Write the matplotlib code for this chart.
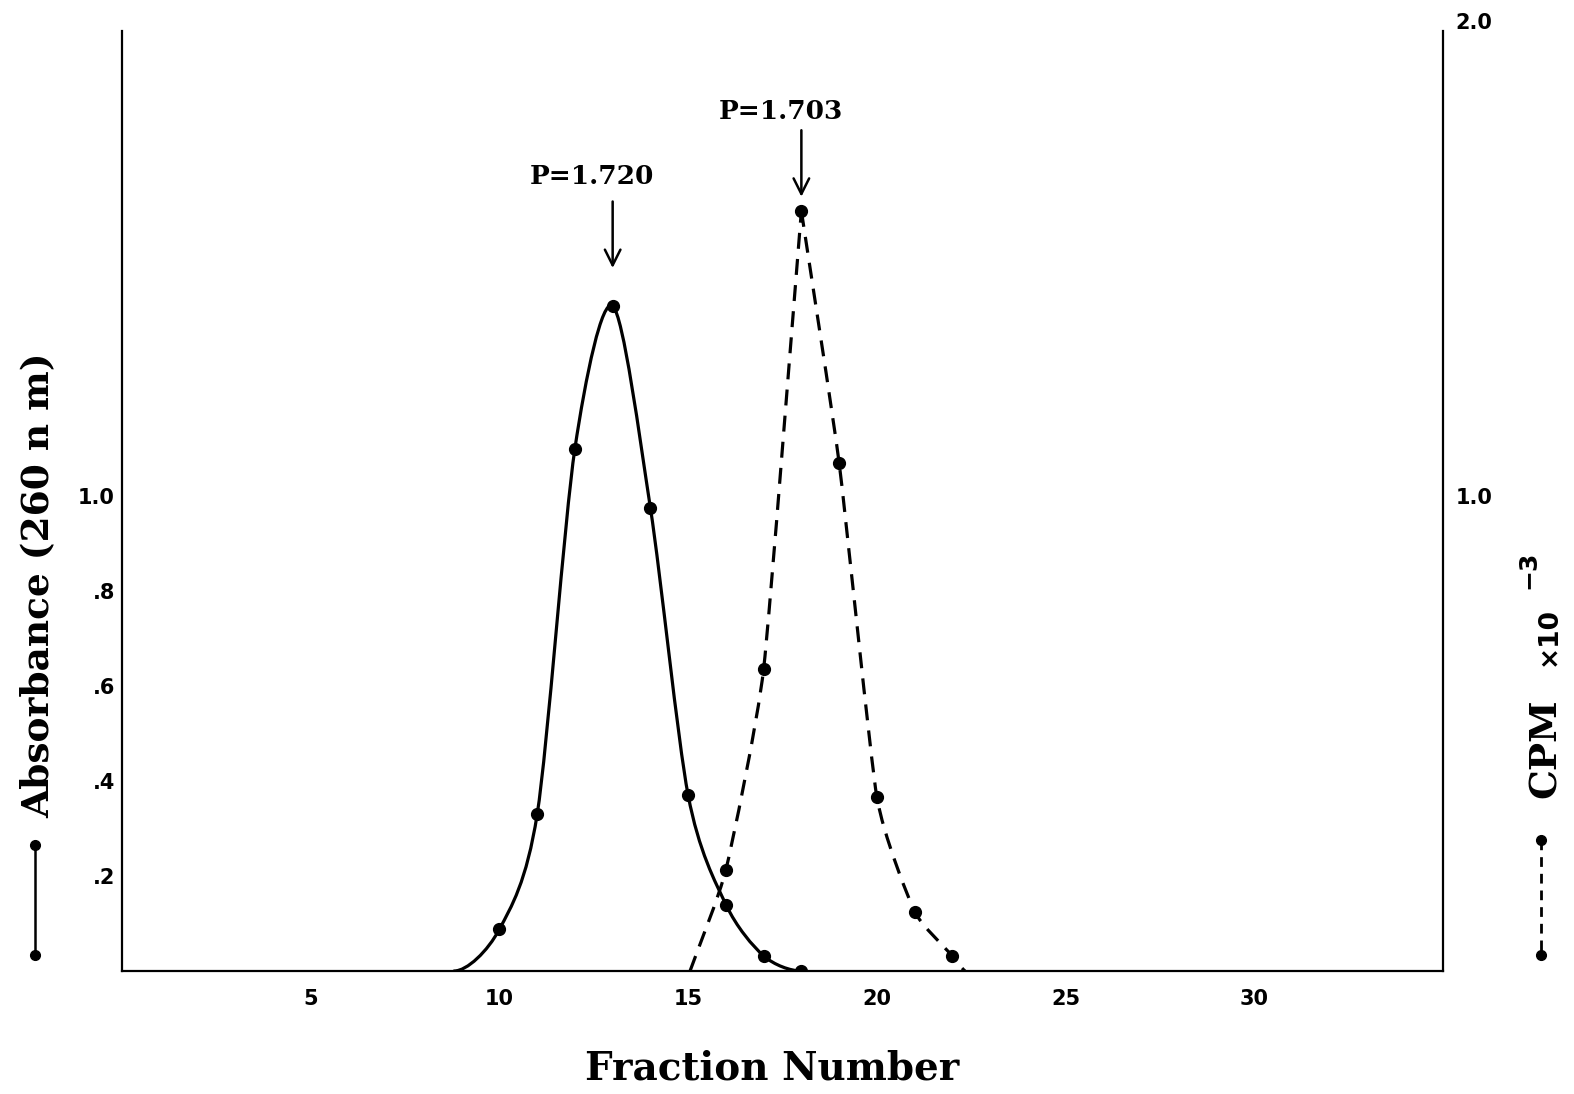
#!/usr/bin/env python3
"""
Density gradient profile: absorbance at 260 nm (solid) and CPM x 10^-3 (dashed)
against fraction number. Writes out.png.
"""
import matplotlib
matplotlib.use("Agg")
import matplotlib.pyplot as plt
import numpy as np
from matplotlib.lines import Line2D
from matplotlib.patches import PathPatch
from matplotlib.path import Path

# Absorbance (260 nm), left axis
abs_fraction = [10, 11, 12, 13, 14, 15, 16, 17, 18]
abs_value = [0.088, 0.33, 1.10, 1.40, 0.975, 0.37, 0.14, 0.032, 0.0]
abs_foot = 8.8  # where the drawn curve leaves the baseline

# CPM x 10^-3, right axis
cpm_fraction = [16, 17, 18, 19, 20, 21, 22]
cpm_value = [0.213, 0.636, 1.60, 1.07, 0.366, 0.125, 0.032]
cpm_foot_left = 15.05
cpm_foot_right = 22.35

density_labels = ["P=1.720", "P=1.703"]

x_ticks = [5, 10, 15, 20, 25, 30]
abs_ticks = [0.2, 0.4, 0.6, 0.8, 1.0]
abs_tick_labels = [".2", ".4", ".6", ".8", "1.0"]
cpm_ticks = [1.0, 2.0]
cpm_tick_labels = ["1.0", "2.0"]

SERIF = "DejaVu Serif"
SANS = "DejaVu Sans"
W, H = 1574, 1094


def smooth_path(xs, ys, flat_start=True, flat_end=True, tension=0.0):
    # cardinal spline through the points, written as cubic Bezier segments
    pts = np.column_stack([xs, ys]).astype(float)
    if flat_start:
        first = np.array([2 * pts[0, 0] - pts[1, 0], pts[1, 1]])
    else:
        first = 2 * pts[0] - pts[1]
    if flat_end:
        last = np.array([2 * pts[-1, 0] - pts[-2, 0], pts[-2, 1]])
    else:
        last = 2 * pts[-1] - pts[-2]
    ext = np.vstack([first, pts, last])
    k = (1 - tension) / 6
    verts = [pts[0]]
    codes = [Path.MOVETO]
    for i in range(1, len(ext) - 2):
        p0, p1, p2, p3 = ext[i - 1], ext[i], ext[i + 1], ext[i + 2]
        verts += [p1 + k * (p2 - p0), p2 - k * (p3 - p1), p2]
        codes += [Path.CURVE4] * 3
    return Path(verts, codes)


fig = plt.figure(figsize=(W / 100, H / 100), dpi=100)
ax = fig.add_axes([122 / W, 123 / H, 1321 / W, 950 / H])
ax2 = ax.twinx()

for a in (ax, ax2):
    a.set_xlim(0, 35)
    a.set_ylim(0, 2.0)
    a.spines["top"].set_visible(False)
    for s in ("left", "right", "bottom"):
        a.spines[s].set_linewidth(1.6)
    a.spines["left"].set_bounds(0, 1.98)
    a.spines["right"].set_bounds(0, 1.98)
    a.tick_params(length=0)

ax.spines["right"].set_visible(False)
ax2.spines["left"].set_visible(False)
ax2.spines["bottom"].set_visible(False)

# absorbance, solid
ax.add_patch(PathPatch(
    smooth_path([abs_foot] + abs_fraction, [0.0] + abs_value, tension=0.15),
    fill=False, lw=2.3, color="black", capstyle="round"))
ax.plot(abs_fraction, abs_value, "o", color="black", ms=8.5)

# CPM, dashed, pointed at the peak
ipk = int(np.argmax(cpm_value))
cx = [cpm_foot_left] + cpm_fraction + [cpm_foot_right]
cy = [0.0] + cpm_value + [0.0]
k = ipk + 1
for xs, ys, fs, fe in ((cx[:k + 1], cy[:k + 1], False, False),
                       (cx[k:], cy[k:], False, True)):
    ax2.add_patch(PathPatch(smooth_path(xs, ys, fs, fe, tension=0.5),
                            fill=False, lw=2.3, color="black",
                            linestyle=(0, (5, 3.2))))
ax2.plot(cpm_fraction, cpm_value, "o", color="black", ms=8.5)

# peak arrows and densities
apk = int(np.argmax(abs_value))
peaks = [(abs_fraction[apk], abs_value[apk] + 0.08, 0.14, 0.053),
         (cpm_fraction[ipk], cpm_value[ipk] + 0.03, 0.14, 0.04)]
for (px, py, ln, gap), lab in zip(peaks, density_labels):
    ax.annotate("", xy=(px, py), xytext=(px, py + ln),
                arrowprops=dict(arrowstyle="->", lw=1.8, color="black",
                                mutation_scale=28, shrinkA=0, shrinkB=0))
    ax.text(px - 0.55, py + ln + gap, lab, ha="center", va="center",
            family=SERIF, fontweight="bold", fontsize=19)

# ticks
ax.set_xticks(x_ticks)
ax.set_xticklabels([str(t) for t in x_ticks], family=SANS, fontweight="bold",
                   fontsize=15)
ax.tick_params(axis="x", pad=13)
ax.set_yticks(abs_ticks)
ax.set_yticklabels(abs_tick_labels, family=SANS, fontweight="bold", fontsize=15)
ax.tick_params(axis="y", pad=5)
ax2.set_yticks(cpm_ticks)
ax2.set_yticklabels(cpm_tick_labels, family=SANS, fontweight="bold", fontsize=15)
ax2.tick_params(axis="y", pad=9)

# axis titles
fig.text(772 / W, 1 - 1068 / H, "Fraction Number", ha="center", va="center",
         family=SERIF, fontweight="bold", fontsize=28)
fig.text(38 / W, 1 - 585 / H, "Absorbance (260 n m)", ha="center", va="center",
         rotation=90, family=SERIF, fontweight="bold", fontsize=27)
fig.text(1545 / W, 1 - 748 / H, "CPM", ha="center", va="center",
         rotation=90, family=SERIF, fontweight="bold", fontsize=27)
fig.text(1549 / W, 1 - 636 / H, "×10", ha="center", va="center",
         rotation=90, family=SANS, fontweight="bold", fontsize=19)
fig.text(1528 / W, 1 - 570 / H, "−3", ha="center", va="center",
         rotation=90, family=SANS, fontweight="bold", fontsize=18)

# little line keys under the axis titles
fig.add_artist(Line2D([35 / W, 35 / W], [1 - 845 / H, 1 - 955 / H],
                      transform=fig.transFigure, color="black", lw=1.8,
                      marker="o", ms=7))
fig.add_artist(Line2D([1541 / W, 1541 / W], [1 - 840 / H, 1 - 955 / H],
                      transform=fig.transFigure, color="black", lw=2.0,
                      linestyle=(0, (3.5, 2.5)), marker="o", ms=7))

fig.savefig("out.png", dpi=100)
